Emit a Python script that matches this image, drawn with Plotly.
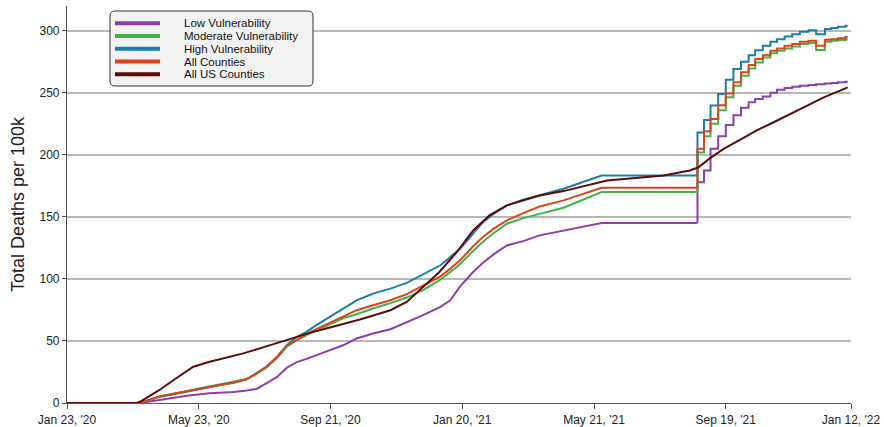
import plotly.graph_objects as go

# ---------------- data ----------------
series_names = ["Low Vulnerability", "Moderate Vulnerability", "High Vulnerability",
                "All Counties", "All US Counties"]
series_colors = ["#8d3fab", "#45b14a", "#1b7ea6", "#d8461a", "#5e0b0b"]

region_dates = ["2020-01-23", "2020-03-30", "2020-04-17", "2020-05-12", "2020-06-02",
                "2020-06-24", "2020-07-06", "2020-07-15", "2020-07-24", "2020-08-03",
                "2020-08-12", "2020-08-21", "2020-08-30", "2020-09-08", "2020-09-18",
                "2020-10-03", "2020-10-15", "2020-10-30", "2020-11-15", "2020-11-30",
                "2020-12-15", "2020-12-31", "2021-01-09", "2021-01-18", "2021-01-30",
                "2021-02-08", "2021-02-18", "2021-03-02", "2021-03-17", "2021-04-01",
                "2021-04-23", "2021-05-28", "2021-08-24"]

low_vals = [0, 0, 2.5, 5.9, 7.8, 8.8, 10, 11.3, 15.8, 21,
            28.5, 33, 35.6, 38.5, 41.3, 46.7, 52, 56, 59.5, 65,
            70.8, 77.5, 82.8, 94, 105.6, 113, 120, 127, 130.5, 135.1,
            139.1, 145, 145]
moderate_vals = [0, 0, 5.3, 9.5, 13.5, 16.8, 19.3, 23.5, 28.5, 36.5,
                 45.5, 50.5, 55, 59, 62.5, 68.5, 71.5, 76.2, 80.5, 85,
                 91, 99.5, 105.5, 112, 122.5, 130, 137, 144.5, 149, 152.6,
                 157.4, 170, 170]
high_vals = [0, 0, 5.1, 9.1, 13.1, 16.3, 19, 23.9, 29.2, 37.3,
             46.7, 53.4, 57.4, 62.7, 68.1, 76.2, 82.8, 88.2, 92.2, 96.8,
             103.8, 111, 117.7, 124.4, 136.5, 145.8, 152.6, 159.3, 163.8, 167.3,
             172.7, 183.4, 183.4]
all_vals = [0, 0, 5.2, 9.3, 13.3, 16.5, 19.2, 23.7, 29, 37,
            46.2, 51, 55.5, 59.5, 63.5, 70, 74.8, 78.8, 82.8, 87.7,
            94.4, 102.1, 108.3, 115, 126.3, 133.8, 140.5, 147.2, 153.1, 158.4,
            163.3, 173.5, 173.5]

# weekly step updates (late 2021)
step_dates = ["2021-08-24", "2021-08-30", "2021-09-05", "2021-09-12", "2021-09-19",
              "2021-09-26", "2021-10-03", "2021-10-10", "2021-10-16", "2021-10-23",
              "2021-10-30", "2021-11-05", "2021-11-12", "2021-11-19", "2021-11-26",
              "2021-12-04", "2021-12-11", "2021-12-19", "2021-12-25", "2021-12-31",
              "2022-01-07"]
end_date = "2022-01-09"
low_steps = [178, 187.4, 205, 215, 224, 232, 238, 242.5, 245, 247,
             250, 252.5, 254, 255, 255.8, 256.4, 257, 257.5, 258, 258.5, 259]
moderate_steps = [202, 215, 225, 236, 246.4, 255.8, 263.8, 269.7, 274.5, 278.5,
                  282, 283.9, 285.8, 287.4, 289.3, 290.1, 284.5, 291.1, 292, 292.5, 293.2]
high_steps = [218, 228.2, 239.7, 249.1, 260.6, 269.2, 275.1, 280.4, 284.4, 287.9,
              291.1, 293.2, 295.4, 297.3, 299.2, 300.5, 297.3, 301.4, 302.2, 303.2, 304]
all_steps = [205, 219, 229, 240, 249.5, 258.5, 266.5, 272.4, 277.2, 280.4,
             283.9, 285.8, 287.9, 289.3, 291.1, 292, 288, 292.8, 293.2, 294.1, 295]

us_dates = ["2020-01-23", "2020-03-27", "2020-03-30", "2020-04-17", "2020-04-30",
            "2020-05-09", "2020-05-18", "2020-06-02", "2020-06-18", "2020-07-03",
            "2020-07-18", "2020-08-03", "2020-08-18", "2020-09-02", "2020-09-17",
            "2020-10-03", "2020-10-18", "2020-11-15", "2020-11-30", "2020-12-15",
            "2020-12-30", "2021-01-15", "2021-01-30", "2021-02-14", "2021-03-02",
            "2021-04-01", "2021-04-23", "2021-06-02", "2021-07-24", "2021-08-17",
            "2021-08-25", "2021-09-04", "2021-09-17", "2021-10-02", "2021-10-17",
            "2021-11-02", "2021-11-17", "2021-12-02", "2021-12-18", "2022-01-09"]
us_vals = [0, 0, 1, 10.5, 18.5, 23.9, 29.2, 33.2, 36.7, 40,
           44, 48.5, 52.8, 56.5, 60, 63.5, 67.3, 74.8, 81.5, 93.5,
           105.6, 121.7, 139.1, 151.2, 159.3, 167.3, 170.8, 179.4, 183.4, 187.4,
           190, 197, 204.8, 212, 219.6, 226.3, 233, 239.7, 246.4, 254.4]

x_tick_vals = ["2020-01-23", "2020-05-23", "2020-09-21", "2021-01-20",
               "2021-05-21", "2021-09-19", "2022-01-12"]
x_tick_text = ["Jan 23, '20", "May 23, '20", "Sep 21, '20", "Jan 20, '21",
               "May 21, '21", "Sep 19, '21", "Jan 12, '22"]
y_tick_vals = [0, 50, 100, 150, 200, 250, 300]

# ---------------- figure ----------------
W, H = 884, 427
ML, MR, MT, MB = 67, 33, 6, 24
PW, PH = W - ML - MR, H - MT - MB

fig = go.Figure()

regional = [
    (low_vals, low_steps),
    (moderate_vals, moderate_steps),
    (high_vals, high_steps),
    (all_vals, all_steps),
]
for i, (smooth, steps) in enumerate(regional):
    col = series_colors[i]
    fig.add_trace(go.Scatter(x=region_dates, y=smooth, mode="lines",
                             line=dict(color=col, width=2), showlegend=False,
                             name=series_names[i]))
    sx = [step_dates[0]] + step_dates + [end_date]
    sy = [smooth[-1]] + steps + [steps[-1]]
    fig.add_trace(go.Scatter(x=sx, y=sy, mode="lines",
                             line=dict(color=col, width=2, shape="hv"),
                             showlegend=False, name=series_names[i]))

fig.add_trace(go.Scatter(x=us_dates, y=us_vals, mode="lines",
                         line=dict(color=series_colors[4], width=2),
                         showlegend=False, name=series_names[4]))

# ---------------- custom legend ----------------
def px_x(px):
    return (px - ML) / PW

def px_y(py):
    return (MT + PH - py) / PH

bx0, bx1, by0, by1, rad = 110, 313, 11, 86, 5
path = (f"M {px_x(bx0+rad)},{px_y(by0)} L {px_x(bx1-rad)},{px_y(by0)} "
        f"Q {px_x(bx1)},{px_y(by0)} {px_x(bx1)},{px_y(by0+rad)} "
        f"L {px_x(bx1)},{px_y(by1-rad)} "
        f"Q {px_x(bx1)},{px_y(by1)} {px_x(bx1-rad)},{px_y(by1)} "
        f"L {px_x(bx0+rad)},{px_y(by1)} "
        f"Q {px_x(bx0)},{px_y(by1)} {px_x(bx0)},{px_y(by1-rad)} "
        f"L {px_x(bx0)},{px_y(by0+rad)} "
        f"Q {px_x(bx0)},{px_y(by0)} {px_x(bx0+rad)},{px_y(by0)} Z")
shapes = [dict(type="path", xref="paper", yref="paper", path=path,
               fillcolor="#f2f2f2", line=dict(color="#333333", width=1), layer="above")]
annotations = []
for i, name in enumerate(series_names):
    ry = 23.3 + i * 12.75
    shapes.append(dict(type="line", xref="paper", yref="paper",
                       x0=px_x(115), x1=px_x(160), y0=px_y(ry), y1=px_y(ry),
                       line=dict(color=series_colors[i], width=4), layer="above"))
    annotations.append(dict(xref="paper", yref="paper", x=px_x(182), y=px_y(ry),
                            text=name, showarrow=False, xanchor="left", yanchor="middle",
                            font=dict(family="Liberation Sans, Arial, sans-serif",
                                      size=11.5, color="#111111")))

fig.update_layout(
    width=W, height=H,
    margin=dict(l=ML, r=MR, t=MT, b=MB, autoexpand=False),
    paper_bgcolor="white", plot_bgcolor="white",
    font=dict(family="Liberation Sans, Arial, sans-serif", color="#222222"),
    shapes=shapes, annotations=annotations,
    showlegend=False,
)
fig.update_xaxes(
    type="date", range=["2020-01-23", "2022-01-12"],
    tickvals=x_tick_vals, ticktext=x_tick_text,
    showgrid=False, zeroline=False, automargin=False,
    showline=True, linecolor="#555555", linewidth=1.2,
    ticks="outside", ticklen=5, tickcolor="#555555",
    tickfont=dict(size=12, color="#222222"),
)
fig.update_yaxes(
    range=[0, 320], tickvals=y_tick_vals, automargin=False,
    showgrid=True, gridcolor="#b8b8b8", gridwidth=1.5, zeroline=False,
    showline=True, linecolor="#555555", linewidth=1.2,
    ticks="outside", ticklen=4, tickcolor="#555555",
    tickfont=dict(size=12, color="#222222"),
    title=dict(text="Total Deaths per 100k", font=dict(size=18, color="#222222"),
               standoff=10),
)

fig.write_html("out.html",
               config={"displayModeBar": False},
               post_script="document.body.style.margin='0px';document.body.style.overflow='hidden';")
